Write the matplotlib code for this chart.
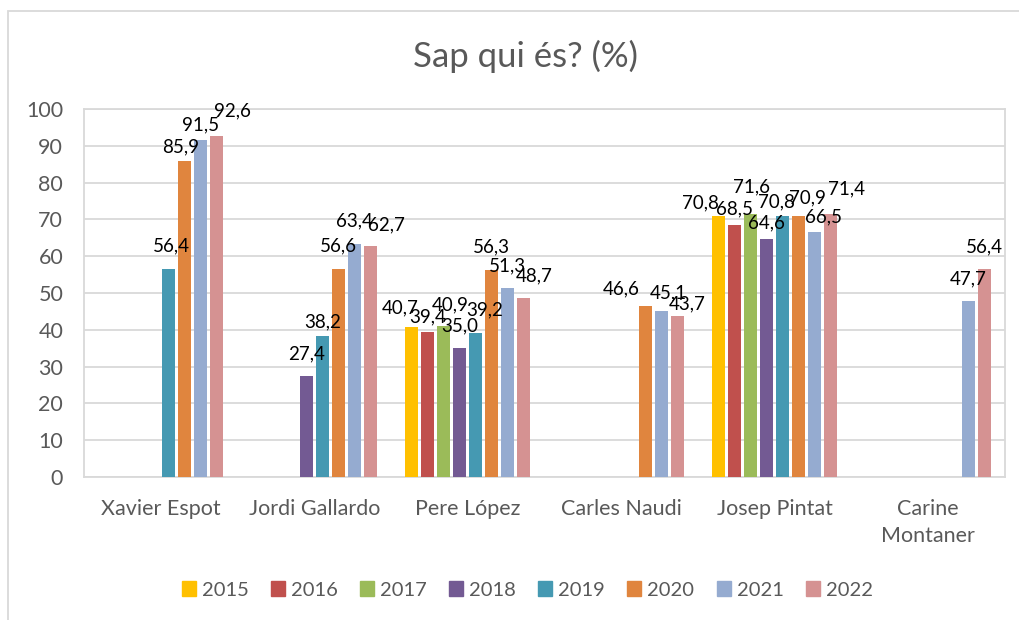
import matplotlib
matplotlib.use("Agg")
import matplotlib.pyplot as plt
from matplotlib.patches import Patch, Rectangle
import numpy as np

plt.rcParams['font.family'] = ['Lato', 'DejaVu Sans']

# data (NaN = no bar)
candidates = ["Xavier Espot", "Jordi Gallardo", "Pere López", "Carles Naudi",
              "Josep Pintat", "Carine\nMontaner"]
years = ["2015", "2016", "2017", "2018", "2019", "2020", "2021", "2022"]
nan = np.nan
v2015 = [nan, nan, 40.7, nan, 70.8, nan]
v2016 = [nan, nan, 39.4, nan, 68.5, nan]
v2017 = [nan, nan, 40.9, nan, 71.6, nan]
v2018 = [nan, 27.4, 35.0, nan, 64.6, nan]
v2019 = [56.4, 38.2, 39.2, nan, 70.8, nan]
v2020 = [85.9, 56.6, 56.3, 46.6, 70.9, nan]
v2021 = [91.5, 63.4, 51.3, 45.1, 66.5, 47.7]
v2022 = [92.6, 62.7, 48.7, 43.7, 71.4, 56.4]
series = [v2015, v2016, v2017, v2018, v2019, v2020, v2021, v2022]

colors = ['#FFC000', '#C0504D', '#9BBB59', '#735A93',
          '#4599B2', '#E0853E', '#95ABD0', '#D59292']

# label nudges (dx px, gap px) where excel shuffled overlapping labels
GAP = 17
nudge = {
    (0, 5): (-4, 9), (0, 6): (0, 10), (0, 7): (16, 20), (0, 4): (3, 18),
    (1, 4): (0, 9), (1, 7): (16, 16),
    (2, 0): (-12, 14), (2, 1): (0, 10), (2, 2): (6, 16), (2, 4): (9, 17),
    (2, 7): (10, 16),
    (3, 5): (-24, 11), (3, 6): (7, 13), (3, 7): (10, 7),
    (4, 0): (-18, 8), (4, 1): (0, 11), (4, 2): (1, 21), (4, 3): (0, 11),
    (4, 4): (-6, 9), (4, 5): (9, 13), (4, 6): (9, 10), (4, 7): (16, 20),
}

fig = plt.figure(figsize=(10.2, 6.2), dpi=100)
ax = fig.add_axes([84/1020, 1-477/620, (1005-84)/1020, (477-109)/620])

x = np.arange(len(candidates))
step = 16/153.5
width = 12.7/153.5
for j, (vals, col) in enumerate(zip(series, colors)):
    xs = x + (j-3.5)*step
    ax.bar(xs, vals, width=width, color=col, zorder=3)
    for i, v in enumerate(vals):
        if np.isnan(v):
            continue
        dx, gap = nudge.get((i, j), (0, GAP))
        ax.annotate(f"{v:.1f}".replace('.', ','), xy=(xs[i], v),
                    xytext=(dx*0.72, gap*0.72), textcoords='offset points',
                    ha='center', va='baseline', fontsize=13.5, color='black',
                    zorder=4)

ax.set_xlim(-0.5, len(candidates)-0.5)
ax.set_ylim(0, 100)
ax.set_yticks(np.arange(0, 101, 10))
ax.set_xticks(x)
ax.set_xticklabels(candidates, linespacing=1.4)
ax.tick_params(axis='both', length=0, labelsize=15.5, colors='#595959')
ax.tick_params(axis='x', pad=16)
ax.tick_params(axis='y', pad=15)
ax.grid(axis='y', color='#D9D9D9', lw=1.3, zorder=0)
for s in ax.spines.values():
    s.set_color('#D9D9D9')
    s.set_linewidth(1.3)

fig.text(0.515, 1-56/620, "Sap qui és? (%)", ha='center', va='center',
         fontsize=25, color='#595959')

handles = [Patch(color=c) for c in colors]
fig.legend(handles, years, loc='center', bbox_to_anchor=(0.517, 1-590/620),
           ncol=8, frameon=False, fontsize=14.5, handlelength=0.7,
           handleheight=0.7, handletextpad=0.3, columnspacing=1.1,
           labelcolor='#595959')

# outer chart border (runs off the right/bottom of the crop)
fig.patches.append(Rectangle((8/1020, -0.1), 1.2, 1.1-11/620,
                             transform=fig.transFigure, fill=False,
                             edgecolor='#D9D9D9', lw=1.3))

fig.savefig("out.png", dpi=100)
